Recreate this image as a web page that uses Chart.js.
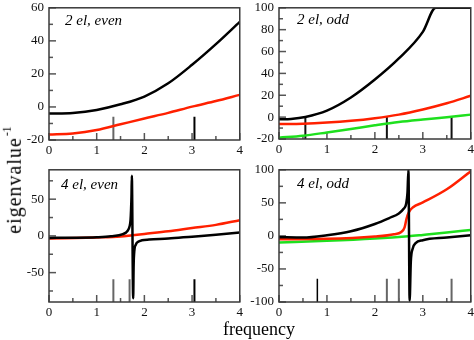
<!DOCTYPE html>
<html><head><meta charset="utf-8">
<script src="https://cdn.jsdelivr.net/npm/chart.js@4.4.0/dist/chart.umd.min.js"></script>
<style>
html,body{margin:0;padding:0;background:#fff;width:474px;height:340px;overflow:hidden;position:relative}
canvas{position:absolute}
.lbl{position:absolute;font-family:'Liberation Serif','Times New Roman',serif;font-style:italic;font-size:15px;color:#000;white-space:nowrap;line-height:1}
.title{position:absolute;font-family:'Liberation Serif','Times New Roman',serif;font-size:18px;font-weight:normal;color:#000;white-space:nowrap;line-height:1}
#ytitle{font-size:20px;letter-spacing:1px}
.title sup{font-size:12px;vertical-align:0;position:relative;top:-10px;margin-left:1px;letter-spacing:0}
</style></head><body>
<canvas id="c1"></canvas><canvas id="c2"></canvas><canvas id="c3"></canvas><canvas id="c4"></canvas>
<div class="lbl" style="left:65px;top:13px">2 el, even</div>
<div class="lbl" style="left:297px;top:12px">2 el, odd</div>
<div class="lbl" style="left:61px;top:177px">4 el, even</div>
<div class="lbl" style="left:297px;top:176px">4 el, odd</div>
<div class="title" style="left:223px;top:320px">frequency</div>
<div class="title" id="ytitle" style="left:0;top:0">eigenvalue<sup>-1</sup></div>
<script>
// ---- shared axis ticks ----
const freqMajor = [0, 1, 2, 3, 4];
const freqMinor = [0.5, 1.5, 2.5, 3.5];

// ---- panel 1: 2 el, even ----
const p1BlackFreq = [0, 0.5, 1, 1.5, 2, 2.5, 3, 3.5, 4];
const p1Black     = [-4, -3.6, -1.8, 1.6, 6.3, 14.3, 25.5, 38, 51.5];
const p1RedFreq   = [0, 0.5, 1, 1.5, 2, 2.5, 3, 3.5, 4];
const p1Red       = [-16.6, -16, -14, -10.5, -7, -3.6, 0.2, 3.6, 7.3];
const p1GrayBars  = [1.35];
const p1BlackBars = [3.05];
const p1BarTop    = -6;
const p1YMajor = [-20, 0, 20, 40, 60];
const p1YMinor = [-10, 10, 30, 50];

// ---- panel 2: 2 el, odd ----
const p2BlackFreq = [0, 0.25, 0.55, 1, 1.5, 2, 2.5, 3, 3.27, 3.5, 4];
const p2Black     = [-2, -1.6, 0.2, 6, 18, 34.4, 53.7, 78, 100, 100, 100];
const p2RedFreq   = [0, 0.5, 1, 1.5, 2, 2.5, 3, 3.5, 4];
const p2Red       = [-6.3, -6, -5, -3.4, -1, 2.3, 7, 12.7, 19.5];
const p2GreenFreq = [0, 0.5, 1, 1.5, 2, 2.5, 3, 3.5, 4];
const p2Green     = [-18.8, -17, -14, -10.8, -7.5, -4.5, -2.2, -0.1, 2.3];
const p2GrayBars  = [];
const p2BlackBars = [0.55, 2.25, 3.6];
const p2BarTop    = 0.5;
const p2YMajor = [-20, 0, 20, 40, 60, 80, 100];
const p2YMinor = [-10, 10, 30, 50, 70, 90];

// ---- panel 3: 4 el, even ----
const p3BlackFreq = [0, 0.5, 1, 1.3, 1.55, 1.65, 1.69, 1.71, 1.72, 1.73, 1.737, 1.765, 1.775, 1.79, 1.82, 1.87, 1.95, 2.1, 2.5, 3, 3.5, 4];
const p3Black     = [-2.7, -2.5, -1.8, -0.5, 2.5, 7, 13, 22, 35, 55, 82, -85, -40, -20, -12, -8, -6, -5, -3.6, -1, 1.5, 4.5];
const p3RedFreq   = [0, 1, 1.5, 1.75, 2, 2.5, 3, 3.5, 4];
const p3Red       = [-3.6, -2.2, -0.9, 0.9, 2.7, 6.3, 10.7, 15, 21.4];
const p3GrayBars  = [1.35, 1.69];
const p3BlackBars = [3.05];
const p3BarTop    = -59;
const p3YMajor = [-50, 0, 50];
const p3YMinor = [-75, -25, 25, 75];

// ---- panel 4: 4 el, odd ----
const p4BlackFreq = [0, 0.5, 1, 1.5, 2, 2.3, 2.5, 2.6, 2.65, 2.68, 2.7, 2.725, 2.75, 2.79, 2.85, 3, 3.5, 4];
const p4Black     = [-2, -2.5, 1, 7, 18, 27, 34, 41, 48, 65, 100, -98, -39, -19, -11, -6.5, -2.5, 1];
const p4RedFreq   = [0, 1, 2, 2.4, 2.55, 2.62, 2.66, 2.71, 2.79, 3, 3.5, 4];
const p4Red       = [-5, -4.5, -1, 2.5, 6, 13, 26, 36, 43, 50.6, 70.5, 97.8];
const p4GreenFreq = [0, 1, 2, 2.7, 3, 3.5, 4];
const p4Green     = [-10, -7.5, -4, -0.5, 1.5, 5, 9];
const p4GrayBars  = [2.25, 2.5, 3.6];
const p4BlackBars = [0.8];
const p4BarTop    = -65;
const p4YMajor = [-100, -50, 0, 50, 100];
const p4YMinor = [-75, -25, 25, 75];

const FONT = "'Liberation Serif','Times New Roman',serif";
const BLACK = '#000000', RED = '#ff2000', GREEN = '#1ee01e';

function pts(xs, ys) { return xs.map((x, i) => ({ x, y: ys[i] })); }
function segs(xs, lo, hi) {
  const out = [];
  xs.forEach(x => { out.push({ x, y: lo }, { x, y: hi }, { x, y: null }); });
  return out;
}
function curve(xs, ys, color) {
  return { data: pts(xs, ys), borderColor: color, borderWidth: 2.5, pointRadius: 0,
           cubicInterpolationMode: 'monotone', fill: false, spanGaps: false };
}
function bars(xs, lo, hi, color, w) {
  return { data: segs(xs, lo, hi), borderColor: color, borderWidth: w, pointRadius: 0,
           tension: 0, fill: false, spanGaps: false };
}

const tickPlugin = {
  id: 'frameTicks',
  beforeDatasetsDraw(chart, args, o) {
    const { ctx, chartArea: a, scales: { x, y } } = chart;
    ctx.save();
    ctx.strokeStyle = '#555'; ctx.lineWidth = 1.5;
    const tx = (vals, len) => vals.forEach(v => {
      const p = x.getPixelForValue(v);
      ctx.beginPath(); ctx.moveTo(p, a.bottom); ctx.lineTo(p, a.bottom - len); ctx.stroke();
    });
    const ty = (vals, len) => vals.forEach(v => {
      const p = y.getPixelForValue(v);
      ctx.beginPath(); ctx.moveTo(a.left, p); ctx.lineTo(a.left + len, p); ctx.stroke();
    });
    tx(o.xMajor, 7); tx(o.xMinor, 4); ty(o.yMajor, 7); ty(o.yMinor, 4);
    ctx.restore();
  },
  afterDatasetsDraw(chart) {
    const { ctx, chartArea: a } = chart;
    ctx.save();
    ctx.strokeStyle = '#3a3a3a'; ctx.lineWidth = 1.5;
    ctx.strokeRect(a.left, a.top, a.right - a.left, a.bottom - a.top);
    ctx.restore();
  }
};

function makePanel(id, box, yMin, yMax, yMajor, yMinor, datasets) {
  const cv = document.getElementById(id);
  const L = 40, T = 10, R = 6, B = 22;
  cv.width = box.w + L + R; cv.height = box.h + T + B;
  cv.style.width = cv.width + 'px'; cv.style.height = cv.height + 'px';
  cv.style.left = (box.x - L) + 'px'; cv.style.top = (box.y - T) + 'px';
  const tickFont = { family: FONT, size: 13 };
  new Chart(cv, {
    type: 'line',
    data: { datasets },
    options: {
      responsive: false, animation: false, devicePixelRatio: 1,
      layout: { padding: { left: 0, top: T, right: R, bottom: 0 } },
      plugins: { legend: { display: false }, tooltip: { enabled: false },
        frameTicks: { xMajor: freqMajor, xMinor: freqMinor, yMajor, yMinor } },
      scales: {
        x: { type: 'linear', min: 0, max: 4,
          afterBuildTicks: s => { s.ticks = freqMajor.map(v => ({ value: v })); },
          afterFit: s => { s.height = B; },
          grid: { display: false, drawTicks: false }, border: { display: false },
          ticks: { padding: 3, font: tickFont, color: '#111', maxRotation: 0, autoSkip: false } },
        y: { type: 'linear', min: yMin, max: yMax,
          afterBuildTicks: s => { s.ticks = yMajor.map(v => ({ value: v })); },
          afterFit: s => { s.width = L; },
          grid: { display: false, drawTicks: false }, border: { display: false },
          ticks: { padding: 5, font: tickFont, color: '#111', autoSkip: false } }
      }
    },
    plugins: [tickPlugin]
  });
}

makePanel('c1', { x: 49, y: 5, w: 191, h: 135 }, -20, 60, p1YMajor, p1YMinor, [
  curve(p1BlackFreq, p1Black, BLACK),
  curve(p1RedFreq, p1Red, RED),
  bars(p1BlackBars, -20, p1BarTop, '#000', 2),
  bars(p1GrayBars, -20, p1BarTop, '#666', 2)
]);
makePanel('c2', { x: 279, y: 5, w: 192, h: 134 }, -20, 100, p2YMajor, p2YMinor, [
  curve(p2BlackFreq, p2Black, BLACK),
  curve(p2RedFreq, p2Red, RED),
  curve(p2GreenFreq, p2Green, GREEN),
  bars(p2BlackBars, -20, p2BarTop, '#111', 2),
  bars(p2GrayBars, -20, p2BarTop, '#666', 2)
]);
makePanel('c3', { x: 49, y: 167, w: 191, h: 135 }, -90, 90, p3YMajor, p3YMinor, [
  curve(p3BlackFreq, p3Black, BLACK),
  curve(p3RedFreq, p3Red, RED),
  bars(p3BlackBars, -90, p3BarTop, '#000', 2),
  bars(p3GrayBars, -90, p3BarTop, '#666', 2)
]);
makePanel('c4', { x: 279, y: 167, w: 192, h: 135 }, -100, 100, p4YMajor, p4YMinor, [
  curve(p4BlackFreq, p4Black, BLACK),
  curve(p4RedFreq, p4Red, RED),
  curve(p4GreenFreq, p4Green, GREEN),
  bars(p4BlackBars, -100, p4BarTop, '#000', 1.5),
  bars(p4GrayBars, -100, p4BarTop, '#666', 2)
]);

// rotated y-axis title: reads bottom-to-top, starting near y=234
(function () {
  const el = document.getElementById('ytitle');
  const w = el.offsetWidth, h = el.offsetHeight;
  const cx = 14, bottomY = 234;
  const cy = bottomY - w / 2;
  el.style.left = (cx - w / 2) + 'px';
  el.style.top = (cy - h / 2) + 'px';
  el.style.transformOrigin = '50% 50%';
  el.style.transform = 'rotate(-90deg)';
})();
</script>
</body></html>
